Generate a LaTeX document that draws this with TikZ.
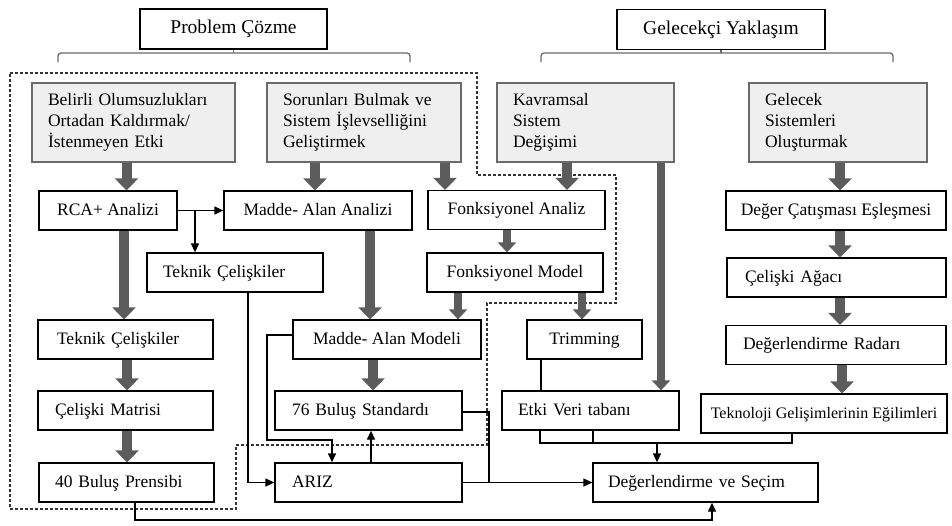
\documentclass[tikz,border=0pt]{standalone}
\usepackage{fontspec}
\setmainfont{Liberation Serif}
\usetikzlibrary{arrows.meta}
\definecolor{fatgray}{HTML}{5C5C5C}
\definecolor{boxfill}{HTML}{EFEFEF}
\definecolor{framegray}{HTML}{6A6A6A}
\newcommand\bodyfont{\fontsize{17.5}{21}\selectfont}
\newcommand\headfont{\fontsize{19.5}{22}\selectfont}
\newcommand\smallfont{\fontsize{16}{18}\selectfont}
\begin{document}
\begin{tikzpicture}[x=1pt,y=-1pt,
  box/.style={draw, line width=1.3pt, inner ysep=0pt, minimum height=39pt,
    text height=13pt, text depth=4pt, font=\bodyfont},
  cbox/.style={box, inner xsep=0pt, align=center, minimum width=#1},
  lbox/.style 2 args={box, text width=#1, inner xsep=#2, align=left},
  topbox/.style={draw=framegray, fill=boxfill, line width=1.3pt, inner ysep=0pt,
    minimum height=79pt, inner xsep=16pt, align=left, font=\bodyfont, text width=#1},
  headbox/.style={draw, line width=1.5pt, inner sep=0pt, minimum width=#1,
    minimum height=40pt, text height=14.5pt, text depth=5pt, font=\headfont},
  brace/.style={draw=framegray, line width=1.3pt, rounded corners=3pt},
  region/.style={draw=black!80, line width=1.2pt, dash pattern=on 3pt off 2pt},
  fat/.style={draw=fatgray, line width=10pt, -{Triangle[width=23pt,length=12pt]}},
  slim/.style={draw=fatgray, line width=7.5pt, -{Triangle[width=18pt,length=10pt]}},
  bar/.style={draw=fatgray, line width=8pt},
  link/.style={draw, line width=1.3pt},
  arr/.style={link, -{Triangle[width=8pt,length=9pt]}}]
\useasboundingbox (0,0) rectangle (952,525);

% dashed outline of the problem-solving region
\draw[region] (10,73) -- (477,73) -- (477,175) -- (616,175) -- (616,303)
  -- (487,303) -- (487,445) -- (236,445) -- (236,509) -- (10,509) -- cycle;

% headings and their brackets
\node[headbox=187pt] (pc) at (233.5,29) {Problem Çözme};
\node[headbox=208pt] (gy) at (721,29.5) {Gelecekçi Yaklaşım};
\coordinate (b1l) at (58,62);  \coordinate (b1m) at (233.5,53); \coordinate (b1r) at (410,62);
\coordinate (b2l) at (541,62); \coordinate (b2m) at (721,53);   \coordinate (b2r) at (893,62);
\draw[brace] (b1l) |- (b1m) -| (b1r);
\draw[brace] (pc.south) -- (b1m);
\draw[brace] (b2l) |- (b2m) -| (b2r);
\draw[brace] (gy.south) -- (b2m);

% starting points
\node[topbox=171pt] (belirli) at (133.5,122.5) {Belirli Olumsuzlukları\\Ortadan Kaldırmak/\\İstenmeyen Etki};
\node[topbox=162pt] (sorun) at (364,122.5) {Sorunları Bulmak ve\\Sistem İşlevselliğini\\Geliştirmek};
\node[topbox=145pt] (kavram) at (585.5,122.5) {Kavramsal\\Sistem\\Değişimi};
\node[topbox=146pt] (gelecek) at (838,122.5) {Gelecek\\Sistemleri\\Oluşturmak};

% tools
\node[cbox=138pt] (rca) at (108,210.5) {RCA+ Analizi};
\node[cbox=188pt] (maa) at (318,210.5) {Madde- Alan Analizi};
\node[cbox=177pt] (fa) at (516.5,210) {Fonksiyonel Analiz};
\node[cbox=220pt] (dce) at (836,210.5) {Değer Çatışması Eşleşmesi};
\node[lbox={144pt}{16pt}] (tc1) at (235,272.5) {Teknik Çelişkiler};
\node[cbox=176pt] (fm) at (515,272.5) {Fonksiyonel Model};
\node[lbox={183pt}{18pt}] (ca) at (836.5,277.5) {Çelişki Ağacı};
\node[lbox={137pt}{19pt}] (tc2) at (125.5,339.5) {Teknik Çelişkiler};
\node[cbox=188pt] (mam) at (387,339.5) {Madde- Alan Modeli};
\node[cbox=115pt] (trim) at (584.5,339.5) {Trimming};
\node[lbox={186pt}{17pt}] (dr) at (836,345) {Değerlendirme Radarı};
\node[lbox={141pt}{17pt}] (cm) at (125.5,410.5) {Çelişki Matrisi};
\node[lbox={153pt}{17pt}] (bs) at (368.5,410.5) {76 Buluş Standardı};
\node[lbox={145pt}{16pt}] (evt) at (590.5,410.5) {Etki Veri tabanı};
\node[cbox=246pt, font=\smallfont] (tge) at (824,413.5) {Teknoloji Gelişimlerinin Eğilimleri};
\node[lbox={143pt}{16pt}] (bp) at (126.5,482.5) {40 Buluş Prensibi};
\node[lbox={153pt}{17pt}] (ariz) at (368.5,482.5) {ARIZ};
\node[lbox={195pt}{15pt}] (ds) at (705.5,482.5) {Değerlendirme ve Seçim};

% main flow (thick arrows)
\draw[fat] ([xshift=-7pt]belirli.south) -- ([xshift=-7pt]belirli.south |- rca.north);
\draw[fat] ([xshift=-49pt]sorun.south) -- ([xshift=-49pt]sorun.south |- maa.north);
\draw[fat] ([xshift=81pt]sorun.south) -- ([xshift=81pt]sorun.south |- fa.north);
\draw[fat] ([xshift=-18.5pt]kavram.south) -- ([xshift=-18.5pt]kavram.south |- fa.north);
\draw[fat] ([xshift=2pt]gelecek.south) -- ([xshift=2pt]gelecek.south |- dce.north);
\draw[fat] ([xshift=16pt]rca.south) -- ([xshift=16pt]rca.south |- tc2.north);
\draw[fat] ([xshift=1.5pt]tc2.south) -- ([xshift=1.5pt]tc2.south |- cm.north);
\draw[fat] ([xshift=1.5pt]cm.south) -- ([xshift=1.5pt]cm.south |- bp.north);
\draw[fat] ([xshift=52pt]maa.south) -- ([xshift=52pt]maa.south |- mam.north);
\draw[slim] ([xshift=-9.5pt]fa.south) -- ([xshift=-9.5pt]fa.south |- fm.north);
\draw[slim] ([xshift=-57pt]fm.south) -- ([xshift=-57pt]fm.south |- mam.north);
\draw[slim] ([xshift=67pt]fm.south) -- ([xshift=67pt]fm.south |- trim.north);
\draw[fat] ([xshift=-14pt]mam.south) -- ([xshift=-14pt]mam.south |- bs.north);
\draw[fat] ([xshift=4pt]dce.south) -- ([xshift=4pt]dce.south |- ca.north);
\draw[fat] ([xshift=3.5pt]ca.south) -- ([xshift=3.5pt]ca.south |- dr.north);
\draw[fat] ([xshift=6pt]dr.south) -- ([xshift=6pt]dr.south |- tge.north);
\draw[slim] ([xshift=75.5pt]kavram.south) -- ([xshift=75.5pt]kavram.south |- evt.north);

% thin connectors
\coordinate (j1) at (195,210.5);
\coordinate (j2) at (267,440);
\coordinate (j3) at (489,482.5);
\coordinate (m1) at (657,443);
\coordinate (m2) at (712,520);
\draw[arr] (rca) -- (maa);
\draw[arr] (j1) -- (j1 |- tc1.north);
\draw[arr] ([xshift=13pt]tc1.south) |- (ariz.west);
\draw[arr] ([yshift=4.5pt]mam.west) -| (j2) -| ([xshift=-36.5pt]ariz.north);
\draw[arr] ([xshift=2.5pt]ariz.north) -- ([xshift=2.5pt]bs.south);
\draw[link] ([yshift=-1.5pt]bs.east) -| (j3);
\draw[arr] (ariz.east) -- (ds.west);
\draw[link] ([xshift=-43.5pt]trim.south) -- ([xshift=-43.5pt]trim.south |- evt.north);
\draw[link] ([xshift=-50.5pt]evt.south) |- (m1);
\draw[link] ([xshift=2.5pt]evt.south) -- ([xshift=2.5pt]evt.south |- m1);
\draw[link] ([xshift=-32pt]tge.south) |- (m1);
\draw[arr] (m1) -- (m1 |- ds.north);
\draw[arr] ([xshift=8.5pt]bp.south) |- (m2) -- (m2 |- ds.south);
\end{tikzpicture}
\end{document}
